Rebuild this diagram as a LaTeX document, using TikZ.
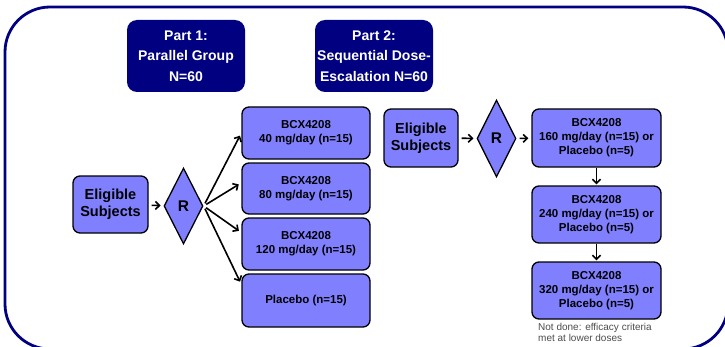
\documentclass[tikz,border=0pt]{standalone}
\usepackage{fontspec}
\setmainfont{Liberation Sans}
\usepackage{xcolor}
\usetikzlibrary{shapes.geometric,arrows.meta}
\definecolor{navy}{RGB}{0,0,128}
\definecolor{periwinkle}{RGB}{128,128,255}
\tikzset{
	armbox/.style={draw=black, line width=1.3pt, fill=periwinkle, rounded corners=7pt, align=center,
			inner sep=0pt, minimum width=128pt, font=\bfseries\fontsize{11.5}{14}\selectfont},
	partbox/.style={fill=navy, text=white, rounded corners=10pt, align=center, inner sep=0pt,
			minimum width=118pt, minimum height=72pt, font=\bfseries\fontsize{14}{20.5}\selectfont},
	subjbox/.style={armbox, minimum width=75pt, minimum height=57pt, font=\bfseries\fontsize{14.5}{17}\selectfont},
	randbox/.style={diamond, draw=black, line width=1.3pt, fill=periwinkle, inner sep=0pt, aspect=0.5,
			minimum width=39pt, minimum height=76pt, font=\bfseries\fontsize{15.5}{15}\selectfont},
	flow/.style={-{Straight Barb[length=4pt,width=8pt]}, line width=1.6pt, shorten <=3pt, shorten >=3pt}
}

\begin{document}
\begin{tikzpicture}[x=1pt, y=1pt]
	\useasboundingbox (0,0) rectangle (725,346);
	\clip (0,0) rectangle (725,346);
	\draw [navy, line width=2.8pt, rounded corners=45pt] (5,339) rectangle (728,-3);

	\node[partbox] (part1) at (186,290) {Part 1:\\Parallel Group\\N=60};
	\node[partbox] (part2) at (374,290) {Part 2:\\Sequential Dose-\\Escalation N=60};

	\node[subjbox] (elig1) at (110.5,141.5) {Eligible\\Subjects};
	\node[randbox] (rand1) at (183.5,140) {R};
	\node[armbox, minimum height=52pt] (dose40) at (306,213) {BCX4208\\40 mg/day (n=15)};
	\node[armbox, minimum height=51pt] (dose80) at (306,157.5) {BCX4208\\80 mg/day (n=15)};
	\node[armbox, minimum height=52pt] (dose120) at (306,102) {BCX4208\\120 mg/day (n=15)};
	\node[armbox, minimum height=53pt] (plac1) at (306,45.5) {Placebo (n=15)};

	\node[subjbox, minimum width=74pt, minimum height=58pt] (elig2) at (421,208) {Eligible\\Subjects};
	\node[randbox, minimum height=77pt] (rand2) at (496.5,207.5) {R};
	\node[armbox, minimum width=129pt, minimum height=58pt] (dose160) at (596.5,208) {BCX4208\\160 mg/day (n=15) or\\Placebo (n=5)};
	\node[armbox, minimum width=129pt, minimum height=57pt] (dose240) at (596.5,131.5) {BCX4208\\240 mg/day (n=15) or\\Placebo (n=5)};
	\node[armbox, minimum width=129pt, minimum height=57pt] (dose320) at (596.5,55.5) {BCX4208\\320 mg/day (n=15) or\\Placebo (n=5)};
	\node[anchor=north west, align=left, inner sep=0pt, text=black!70, font=\fontsize{10}{11.5}\selectfont]
		(notdone) at (538,23) {Not done: efficacy criteria\\met at lower doses};

	\draw [flow] (elig1) -- (rand1);
	\draw [flow] (rand1.east) -- (dose40.west);
	\draw [flow] (rand1.east) -- (dose80.175);
	\draw [flow] (rand1.east) -- (dose120.170);
	\draw [flow] (rand1.east) -- (plac1.166);

	\draw [flow] (elig2) -- (rand2);
	\draw [flow] (rand2) -- (dose160);
	\draw [flow, shorten <=0pt, shorten >=1pt] (dose160) -- (dose240);
	\draw [flow, shorten <=0pt, shorten >=1pt] (dose240) -- (dose320);
\end{tikzpicture}
\end{document}
